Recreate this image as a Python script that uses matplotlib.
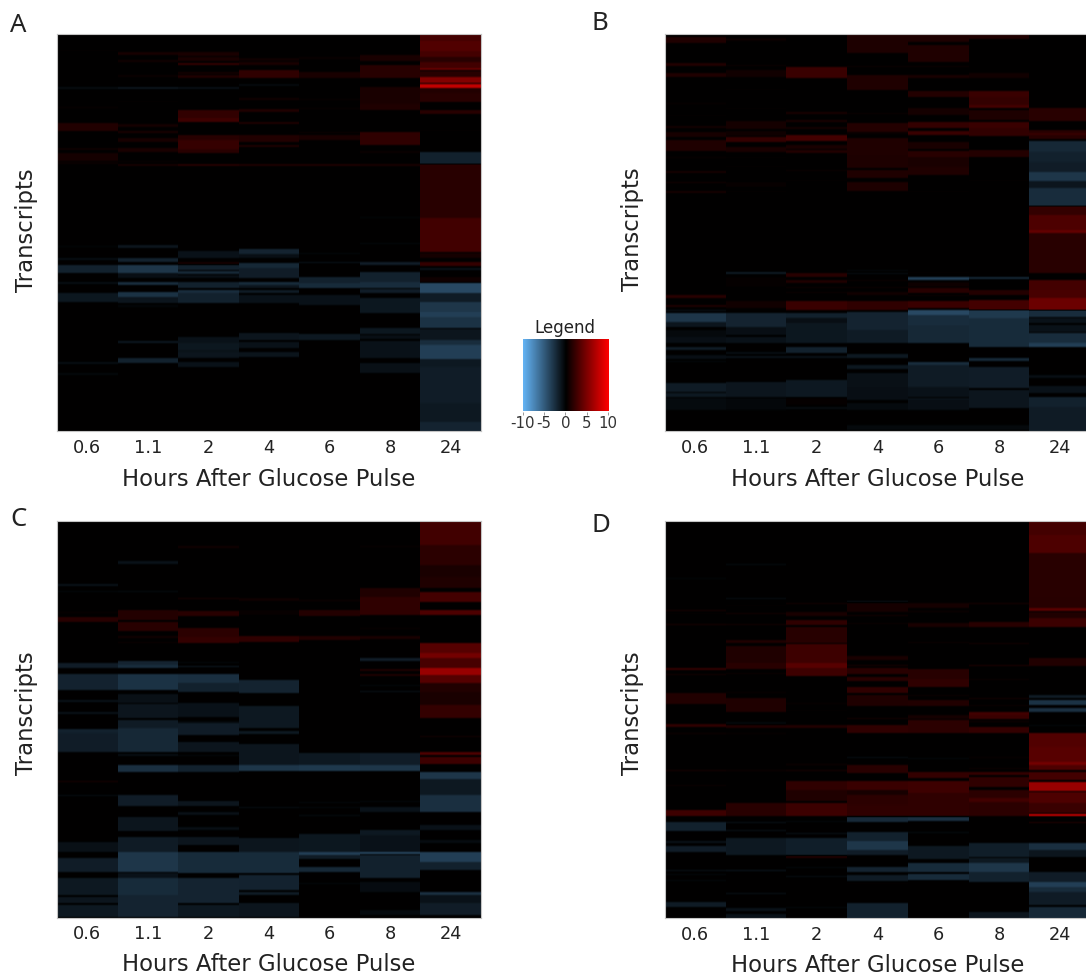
import numpy as np
import matplotlib
matplotlib.use('Agg')
import matplotlib.pyplot as plt
from matplotlib.colors import LinearSegmentedColormap

hours = ['0.6', '1.1', '2', '4', '6', '8', '24']
n_rows = 397

# log2 fold change by transcript rows: (first row, last row + 1, value), later bands win
a_06 = [(16,17,.3),(53,55,-.7),(73,74,.4),(89,97,1.3),(114,116,.6),(119,127,.8),(128,130,.5),(212,213,-.4),(224,226,-.8),(231,239,-1.8),(248,250,-.8),(259,268,-1.3),(328,330,-.8),(339,341,-.5)]
a_11 = [(18,21,.9),(26,28,.7),(41,43,.5),(53,55,-1.2),(67,68,.3),(90,93,.8),(97,99,1),(104,108,.9),(114,118,1),(127,128,.4),(130,132,.9),(211,214,-1.2),(224,228,-1.8),(231,239,-3),(239,244,-.8),(248,251,-2.5),(258,263,-2.8),(263,269,-1.2),(271,273,-.4),(307,309,-1.3),(324,329,-1.8)]
a_2 = [(18,22,1),(23,27,1),(29,31,2),(38,40,.8),(41,44,1.2),(53,55,-.9),(76,84,1.9),(84,88,2.4),(101,106,1.5),(106,115,2.1),(115,119,1.6),(130,132,1.5),(217,224,-1),(228,230,.9),(231,236,-1.8),(237,240,-2.2),(241,244,-.8),(248,254,-1.8),(256,259,-2.5),(259,269,-1.8),(303,324,-1),(309,316,-1.3),(318,323,-1.2),(328,333,-1)]
a_4 = [(24,27,.6),(28,31,1),(36,44,1.8),(50,52,-.6),(64,66,.7),(75,78,1.2),(88,90,1.2),(101,108,1.3),(111,113,1.2),(130,132,1.2),(215,220,-2),(220,224,-.8),(229,234,-2.2),(234,244,-1.6),(248,251,-2.4),(251,254,-1.2),(256,259,-1.5),(261,269,-1),(299,306,-1.2),(308,314,-1),(318,323,-1.1)]
a_6 = [(23,25,.4),(38,44,1),(65,66,.4),(74,75,.4),(98,99,.5),(101,106,1),(130,132,1.2),(219,220,-.6),(228,229,-1.2),(243,249,-1.8),(249,254,-2.4),(261,271,-1),(300,306,-1.4)]
a_8 = [(21,27,1),(31,44,1.5),(53,70,1),(70,76,1.2),(98,111,1.8),(117,119,.5),(130,132,1),(183,184,-.4),(209,210,-.5),(228,231,-1.6),(238,248,-1.8),(248,254,-2.5),(255,259,-1.6),(264,279,-1.3),(294,300,-1.3),(301,305,-.8),(307,324,-1),(329,339,-.9)]
a_24 = [(0,7,2.6),(7,17,3.2),(17,23,2.6),(23,28,1.5),(28,34,2.5),(34,36,4),(37,43,1.5),(43,49,5),(50,54,7.5),(54,59,1.3),(59,68,1.5),(76,80,1.5),(96,97,.3),(118,130,-1.8),(130,184,1.6),(184,218,2.5),(219,224,.8),(228,232,2),(234,236,-1),(243,248,.6),(249,259,-4),(259,268,-1.5),(268,278,-3),(278,283,-3.5),(283,294,-2.8),(295,306,-1.2),(306,311,-2.5),(311,325,-3.5),(325,333,-1.4),(333,369,-1.6),(369,388,-1.4),(388,397,-2)]

b_06 = [(3,9,1.2),(29,32,1.3),(39,43,1.2),(69,70,.4),(81,82,.3),(92,94,.8),(98,103,.9),(106,117,1.2),(123,124,.4),(137,139,.9),(148,149,.8),(157,159,.9),(261,264,1.6),(271,273,1.2),(276,277,-1),(279,288,-3),(288,293,-1.2),(296,303,-.5),(303,309,-.8),(313,316,-1.5),(321,325,-.8),(327,328,-.5),(349,358,-1.5),(359,363,-1.4),(364,376,-.6)]
b_11 = [(4,7,.5),(31,32,.5),(36,43,.7),(55,56,.3),(74,75,.3),(87,95,.8),(97,102,.6),(103,108,2),(113,118,1),(123,124,.2),(132,133,.2),(148,153,.3),(157,158,.3),(238,240,-1.5),(243,253,.2),(267,274,.7),(279,293,-2),(293,301,-.8),(303,309,-1),(318,320,-.8),(322,324,-1),(348,363,-1.2),(364,376,-.4)]
b_2 = [(33,44,2.2),(78,80,1),(86,88,1),(93,95,.8),(101,107,2.6),(111,115,1),(116,119,1.3),(136,137,.5),(146,147,.2),(239,243,1.5),(246,249,1.2),(253,254,.6),(258,259,.6),(267,276,2.2),(279,284,-1.8),(284,289,-.8),(289,309,-1.3),(313,319,-1.8),(322,324,-1),(346,363,-1.4),(364,371,.2),(373,375,-.7)]
b_4 = [(0,19,1.1),(32,33,.5),(41,56,1.2),(79,80,.5),(89,98,1.4),(99,100,.5),(104,121,1.2),(121,134,1.1),(136,144,1.2),(148,157,1.1),(236,237,-.6),(239,240,-.8),(246,247,.5),(253,254,.5),(258,261,.7),(267,276,1.8),(278,296,-2),(296,309,-1.5),(320,324,-1.4),(331,335,-1.3),(339,353,-.9),(353,366,-.8),(369,376,-.6),(391,396,-.5)]
b_6 = [(0,8,1.1),(11,28,1.2),(32,33,.5),(41,44,1),(57,63,1.4),(74,81,.8),(88,94,2),(97,101,2.2),(108,115,1),(117,123,1.6),(123,133,1),(133,141,1.2),(157,158,.3),(238,239,.3),(243,246,-3.5),(248,253,.5),(254,259,1.5),(261,262,.5),(267,274,2.2),(276,281,-4),(281,291,-2.5),(291,309,-2.2),(328,331,-2.5),(331,353,-1.5),(353,363,-1),(364,366,-1),(366,376,-.8),(391,396,-.5)]
b_8 = [(0,5,1.2),(39,44,.7),(57,63,2.2),(63,71,2),(71,74,2.6),(76,86,1.1),(88,94,2.2),(94,102,1.9),(116,123,1.4),(146,147,.3),(243,245,-2.2),(256,261,1.4),(266,276,2.6),(276,284,-3.2),(284,313,-2.4),(324,327,-2.2),(333,354,-1.6),(356,374,-1.2),(391,396,-.5)]
b_24 = [(74,87,1.6),(96,105,1.5),(99,101,2.2),(107,118,-2.2),(118,128,-1.8),(128,138,-1.6),(138,147,-3),(147,154,-1.2),(154,172,-2.5),(172,181,2),(181,199,3),(196,199,3.8),(199,239,1.6),(246,256,2.6),(256,264,2.8),(264,276,4.2),(276,283,-2.5),(284,289,-1),(291,298,-1),(299,309,-2.5),(309,313,-3.5),(341,344,-.8),(352,359,-1),(363,373,-1.8),(373,397,-1.5)]

c_06 = [(63,65,-1),(70,71,-.6),(91,92,.4),(96,101,1.5),(142,147,-1.6),(153,169,-1.9),(179,181,-1),(191,193,-1),(208,212,-1.8),(212,231,-1.6),(260,261,1),(274,275,-.8),(321,331,-.9),(337,351,-1.6),(357,374,-1.4),(376,382,-1.2),(384,396,-1.4)]
c_11 = [(40,43,-1),(70,71,-.7),(89,99,1.4),(101,110,1.6),(115,117,.7),(121,122,.5),(140,144,-2),(144,147,-2.5),(153,169,-2.8),(173,182,-.9),(183,197,-1.2),(199,207,-1.5),(207,231,-2.2),(233,235,-.8),(244,251,-2.6),(274,285,-1.6),(296,310,-1.2),(316,331,-1.5),(331,351,-3),(352,357,-1),(357,374,-2.4),(374,396,-2)]
c_2 = [(25,27,.7),(77,78,1),(90,95,1.6),(107,116,1.7),(116,122,2),(141,142,-.6),(145,146,-1.5),(153,162,-2.6),(162,171,-1.8),(182,196,-1),(200,204,-.5),(202,214,-1.6),(221,231,-1.2),(234,235,-.6),(244,251,-1.8),(280,285,-1.2),(291,294,-.9),(306,309,-.8),(316,324,-1.2),(331,352,-2.4),(357,382,-2),(384,396,-1.4)]
c_4 = [(77,80,.6),(89,94,.3),(115,121,1.8),(159,172,-2),(185,207,-1.4),(210,213,-1.4),(223,244,-1.2),(244,250,-3),(286,287,-.8),(317,331,-1.2),(331,352,-2.4),(354,369,-1.9),(371,374,-1.5),(382,396,-1.2)]
c_6 = [(79,80,.7),(89,95,1.4),(115,119,1.3),(232,244,-1.4),(244,250,-3.2),(281,282,-.5),(286,287,-.5),(294,295,-.7),(313,331,-1.3),(331,334,-3.5),(334,338,-1.5),(346,351,-2.2),(362,363,-.5)]
c_8 = [(25,26,.4),(67,76,1.2),(76,94,1.8),(107,108,.4),(115,118,1),(137,140,-1.6),(148,150,1.2),(153,155,1.2),(164,165,-.5),(170,171,-1),(232,244,-1.6),(244,250,-3),(280,281,-.5),(286,291,-1),(309,314,-1.4),(314,331,-1),(331,333,-4),(334,346,-1.8),(346,357,-1.8),(361,371,-.7),(389,394,-.6)]
c_24 = [(0,24,2.5),(24,44,1.7),(44,56,1),(56,67,1.2),(71,81,2.6),(89,94,3),(122,132,3.3),(132,137,4.5),(137,147,2.8),(147,154,6),(154,162,3.3),(162,171,1.3),(171,184,1),(184,197,2),(215,216,.8),(231,234,3),(236,243,2.4),(251,258,-3),(258,274,-1.4),(274,291,-2.6),(304,309,-1),(319,322,-.7),(331,341,-3.5),(341,349,-1.8),(371,374,-2.6),(374,382,-1),(382,394,-1.6)]

d_06 = [(57,58,-.4),(89,90,1),(92,93,.3),(103,104,1),(147,149,2),(153,154,.8),(172,183,1.3),(203,206,1.8),(212,213,.7),(249,250,1),(264,265,.5),(289,295,2.4),(301,310,-1.8),(320,322,-1),(325,331,-1.6),(349,350,-1),(353,354,-.5),(359,360,-.5),(381,386,-1.5)]
d_11 = [(43,44,-.7),(77,78,-.8),(84,85,.3),(92,93,.8),(103,104,.8),(119,122,1.2),(125,142,1.2),(142,148,1.6),(152,153,.6),(171,172,.4),(177,191,1.2),(201,203,-.5),(204,207,1.2),(212,213,.4),(249,250,.7),(282,295,1.6),(301,302,-1),(309,310,-1),(317,334,-1.4),(349,350,-1.3),(372,373,-1),(387,390,-1),(393,397,-1)]
d_2 = [(82,83,.8),(91,95,1),(99,104,1.8),(106,122,1.5),(123,142,2.4),(142,147,3.4),(147,155,2.4),(182,183,.4),(189,190,.3),(204,207,1.3),(243,244,.7),(249,250,1),(260,269,1.8),(269,280,1.2),(282,289,2.3),(289,295,2.4),(300,301,-.5),(312,313,-1),(317,334,-1.7),(335,337,1.3),(346,347,-.6),(355,356,-.8),(386,387,-.5)]
d_4 = [(80,81,-1),(82,91,.8),(94,95,.8),(102,103,.6),(135,139,1),(144,145,1),(147,153,1.6),(156,160,1.6),(166,172,1.8),(174,185,1.2),(197,198,.8),(204,212,1.8),(236,237,-.8),(244,252,1.6),(260,269,2.2),(269,274,.9),(274,284,1.7),(284,295,1.8),(296,301,-2.3),(311,320,-1.8),(320,329,-3),(329,334,-1.6),(346,351,-2),(354,360,-1.5),(362,363,.3),(382,397,-1.8)]
d_6 = [(82,87,.8),(90,91,.7),(102,106,1),(121,122,.6),(148,158,1.5),(158,166,1.8),(174,175,.5),(179,185,1.3),(194,198,.8),(199,212,1.7),(237,238,-.5),(251,257,2),(260,272,2.4),(272,295,1.8),(296,300,-2.6),(311,312,-.7),(325,338,-1.4),(342,351,-2.4),(353,359,-2.4)]
d_8 = [(82,83,1),(101,106,1.6),(122,123,.9),(144,145,1.4),(158,159,.5),(177,178,.8),(184,185,.5),(191,194,2.5),(194,198,2.2),(200,201,.7),(206,212,2),(236,237,.4),(247,248,.6),(251,254,2),(256,266,1.8),(269,277,1.7),(277,281,2.5),(281,295,1.7),(322,336,-1.7),(337,342,-1.4),(342,351,-3),(351,361,-1.8),(391,397,-1.2)]
d_24 = [(0,14,2.6),(14,32,3),(32,76,1.6),(76,87,1.5),(87,90,3.5),(91,97,1.2),(97,106,2.3),(137,145,1.3),(174,177,-1.5),(179,184,-2.8),(187,191,-2.6),(204,205,-.6),(212,226,3.2),(226,241,3.4),(241,244,4.5),(244,249,3),(251,259,2.6),(261,270,6),(271,282,3),(282,292,2.2),(293,295,8),(301,302,1.5),(322,329,-2.6),(329,336,-1.2),(351,361,-1.6),(361,366,-3.5),(366,371,-2.4),(371,384,-1.5),(386,397,-2.2)]

panel_a = [a_06, a_11, a_2, a_4, a_6, a_8, a_24]
panel_b = [b_06, b_11, b_2, b_4, b_6, b_8, b_24]
panel_c = [c_06, c_11, c_2, c_4, c_6, c_8, c_24]
panel_d = [d_06, d_11, d_2, d_4, d_6, d_8, d_24]

cmap = LinearSegmentedColormap.from_list('bbr', ['#64b4f5', '#000000', '#ff0000'])


def to_matrix(columns):
    m = np.zeros((n_rows, len(columns)))
    for j, bands in enumerate(columns):
        for start, stop, val in bands:
            m[start:stop, j] = val
    # reference is a soft raster, rows bleed a little into each other
    soft = np.zeros_like(m)
    for j in range(m.shape[1]):
        soft[:, j] = np.convolve(np.pad(m[:, j], 1, mode='edge'), [.25, .5, .25], mode='valid')
    return soft


W, H = 1086.0, 975.0
fig = plt.figure(figsize=(W / 100, H / 100), dpi=100)


def px_axes(x0, y0, x1, y1):
    return fig.add_axes([x0 / W, 1 - y1 / H, (x1 - x0) / W, (y1 - y0) / H])


def heat(columns, x0, y0, x1, y1, letter, letter_x, letter_y, tick_pad, label_pad, yl_x, yl_y):
    ax = px_axes(x0, y0, x1, y1)
    ax.imshow(to_matrix(columns), cmap=cmap, vmin=-10, vmax=10, aspect='auto',
              interpolation='nearest')
    ax.set_xticks(range(len(hours)))
    ax.set_xticklabels(hours, fontsize=12.8, color='#222222')
    ax.set_yticks([])
    ax.tick_params(axis='x', length=0, pad=tick_pad)
    ax.set_xlabel('Hours After Glucose Pulse', fontsize=16.4, color='#222222', labelpad=label_pad)
    fig.text(yl_x / W, 1 - yl_y / H, 'Transcripts', fontsize=16.4, color='#222222',
             rotation=90, ha='center', va='center')
    for s in ax.spines.values():
        s.set_color('#c4c4c4')
        s.set_linewidth(0.8)
    fig.text(letter_x / W, 1 - letter_y / H, letter, fontsize=18.5, family='Noto Sans',
             color='#222222', ha='left', va='center')


heat(panel_a, 57, 34, 481, 431, 'A', 10, 25, 6, 8, 27, 230)
heat(panel_b, 665, 34, 1090, 431, 'B', 592, 24, 6, 8, 632, 229)
heat(panel_c, 57, 521, 481, 918, 'C', 10, 520, 5, 7, 27, 713)
heat(panel_d, 665, 521, 1090, 918, 'D', 592, 525, 6, 7, 632, 713)

# legend bar
lg = px_axes(522.7, 339, 608, 411.5)
grad = np.linspace(-10, 10, 256).reshape(1, -1)
lg.imshow(grad, cmap=cmap, vmin=-10, vmax=10, aspect='auto', extent=[-10, 10, 0, 1])
lg.set_yticks([])
lg.set_xticks([-10, -5, 0, 5, 10])
lg.set_xticklabels(['-10', '-5', '0', '5', '10'], fontsize=10.8, color='#333333')
lg.tick_params(axis='x', length=2, width=0.6, color='#888888', pad=1)
for s in lg.spines.values():
    s.set_visible(False)
lg.set_title('Legend', fontsize=12, color='#222222', pad=4.5)

fig.savefig('out.png', dpi=100)
